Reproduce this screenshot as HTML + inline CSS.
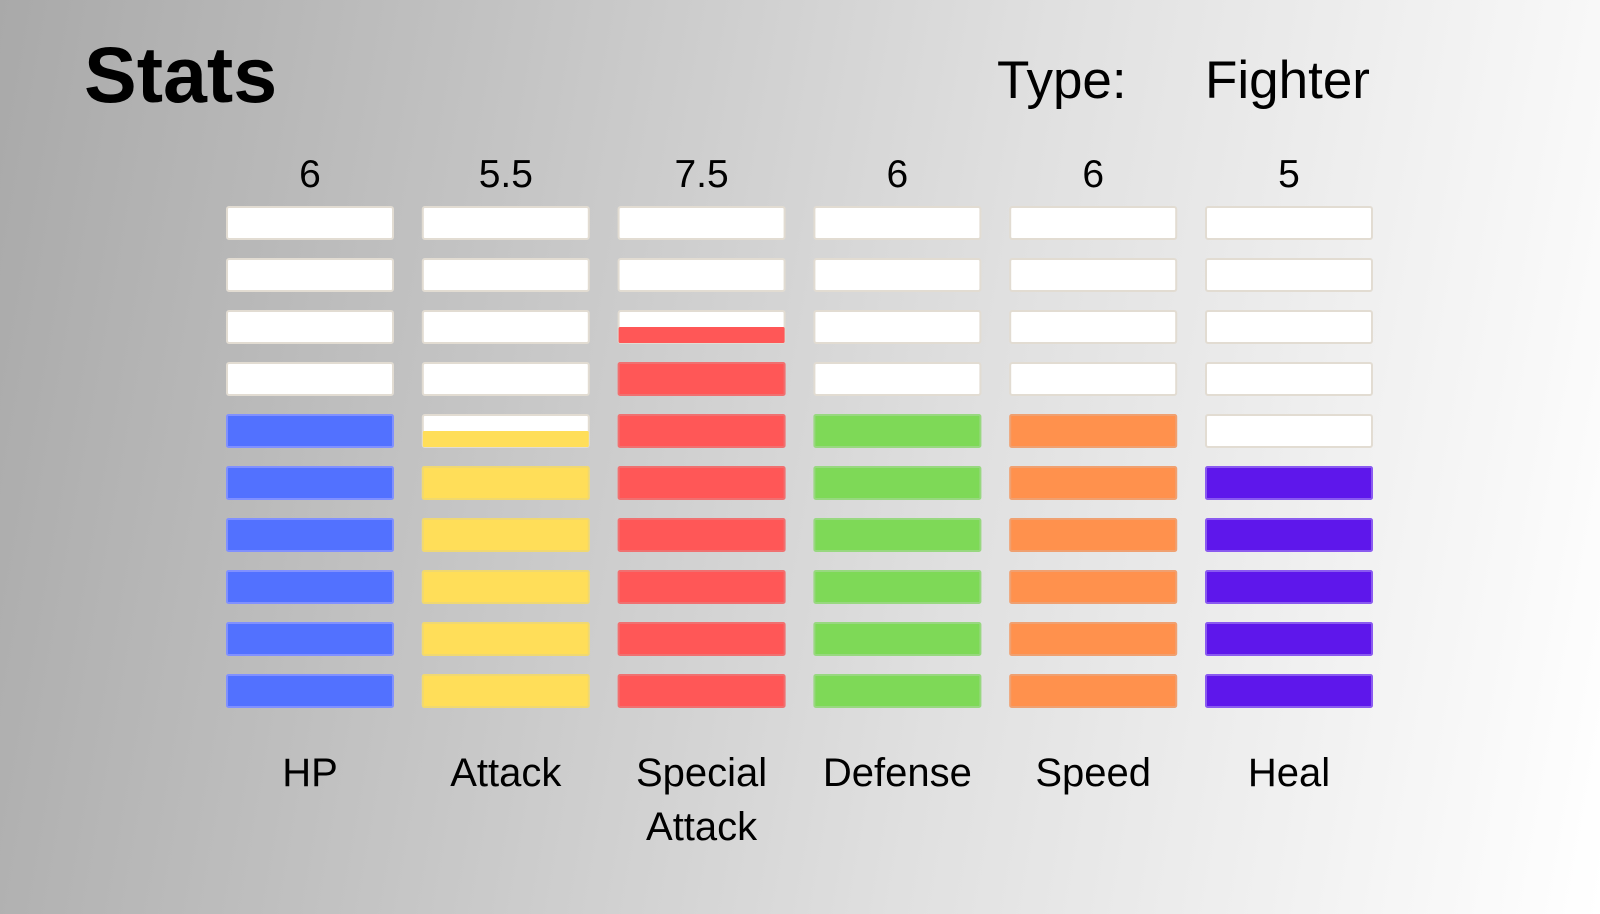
<!DOCTYPE html>
<html><head><meta charset="utf-8"><style>
html,body{margin:0;padding:0}
body{width:1600px;height:914px;overflow:hidden;position:relative;font-family:"Liberation Sans",Arial,sans-serif;
background:linear-gradient(100deg,#a9a9a9 0%,#c4c4c4 30%,#e0e0e0 60%,#ffffff 100%);}
.t{position:absolute;color:#000;white-space:nowrap}
</style></head><body>
<div class="t" style="left:84px;top:30px;font-size:79px;font-weight:bold;line-height:90px">Stats</div>
<div class="t" style="left:997px;top:51px;font-size:53px;line-height:60px">Type:</div>
<div class="t" style="left:1205px;top:51px;font-size:53px;line-height:60px">Fighter</div>
<svg id="chart" width="1600" height="914" style="position:absolute;left:0;top:0"></svg>
<script>
const categories=["HP","Attack","Special Attack","Defense","Speed","Heal"];
const values=[6,5.5,7.5,6,6,5];
const valueLabels=["6","5.5","7.5","6","6","5"];
const colors=["#5271ff","#ffde59","#ff5757","#7ed957","#ff914d","#5e17eb"];
const borders=["#8090ff","#f0d870","#f07070","#98d880","#f0a070","#8a5af0"];
const maxSegments=10;
const svg=document.getElementById('chart');
const NS="http://www.w3.org/2000/svg";
const x0=227,colStep=195.8,barW=166,y0=207,rowStep=52,barH=32;
function xPos(i){return x0+i*colStep;}
function yRow(seg){return y0+(maxSegments-1-seg)*rowStep;}
function mk(tag,attrs){const e=document.createElementNS(NS,tag);for(const k in attrs)e.setAttribute(k,attrs[k]);return e;}
categories.forEach((c,i)=>{
  const x=xPos(i);
  for(let s=0;s<maxSegments;s++){
    const y=yRow(s);
    const frac=Math.max(0,Math.min(1,values[i]-s));
    const bg=mk('rect',{x:x,y:y,width:barW,height:barH,fill:'#fff',stroke:'#e2dcd2','stroke-width':2,rx:2});
    
    
    svg.appendChild(bg);
    if(frac>0){
      const h=barH*frac;
      const f=mk('rect',{x:x,y:y+barH-h,width:barW,height:h,fill:colors[i],stroke:frac>=1?borders[i]:'none','stroke-width':frac>=1?2:0,rx:1.5});
      
      
      svg.appendChild(f);
    }
  }
  const vt=mk('text',{x:x+barW/2,y:187,'text-anchor':'middle','font-size':39,fill:'#000','font-family':'Liberation Sans, sans-serif'});
  vt.textContent=valueLabels[i];
  
  
  svg.appendChild(vt);
  const words=c.split(' ');
  words.forEach((w,j)=>{
    const lt=mk('text',{x:x+barW/2,y:786+j*54,'text-anchor':'middle','font-size':40,fill:'#000','font-family':'Liberation Sans, sans-serif'});
    lt.textContent=w;
    
    
    svg.appendChild(lt);
  });
});
</script>
</body></html>
